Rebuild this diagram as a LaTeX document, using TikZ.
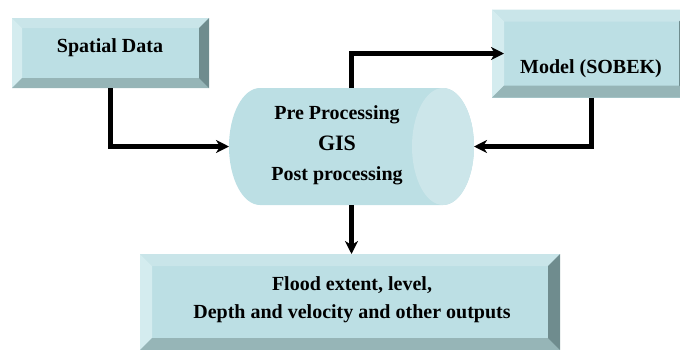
\documentclass[tikz,border=0pt]{standalone}
\usepackage{fontspec}
\setmainfont{Liberation Serif}
\usetikzlibrary{arrows.meta,calc}

\definecolor{face}{RGB}{188,223,228}
\definecolor{bevleft}{RGB}{212,236,239}
\definecolor{bevtop}{RGB}{201,229,233}
\definecolor{bevright}{RGB}{111,140,142}
\definecolor{bevbottom}{RGB}{150,181,183}
\definecolor{cylend}{RGB}{204,230,234}

% bevelled box drawn around a named (invisible) rectangle node: #1 name, #2 bevel width
\newcommand\bevelbox[2]{%
  \fill[face] (#1.north west) rectangle (#1.south east);
  \fill[bevtop] (#1.north west) -- (#1.north east) -- ($(#1.north east)+(-#2,#2)$) -- ($(#1.north west)+(#2,#2)$) -- cycle;
  \fill[bevleft] (#1.north west) -- ($(#1.north west)+(#2,#2)$) -- ($(#1.south west)+(#2,-#2)$) -- (#1.south west) -- cycle;
  \fill[bevbottom] (#1.south west) -- ($(#1.south west)+(#2,-#2)$) -- ($(#1.south east)+(-#2,-#2)$) -- (#1.south east) -- cycle;
  \fill[bevright] (#1.north east) -- ($(#1.north east)+(-#2,#2)$) -- ($(#1.south east)+(-#2,-#2)$) -- (#1.south east) -- cycle;
}

\begin{document}
\begin{tikzpicture}[x=1pt, y=-1pt,
  frame/.style={rectangle, inner sep=0pt, outer sep=0pt},
  txt/.style={anchor=base, inner sep=0pt, font=\fontsize{20}{24}\selectfont\bfseries},
  big/.style={anchor=base, inner sep=0pt, font=\fontsize{22}{26}\selectfont\bfseries},
  conn/.style={line width=4.5pt, line join=miter, -{Stealth[length=13pt, width=13pt, inset=4pt]}}]

\clip (0,0) rectangle (680,349);

% box frames
\node[frame, minimum width=197pt, minimum height=70pt] (sd) at (110.5,53) {};
\node[frame, minimum width=199pt, minimum height=88pt] (model) at (591.5,53.5) {};
\node[frame, minimum width=420pt, minimum height=96pt] (out) at (350,302) {};
\node[frame, minimum width=245pt, minimum height=117pt] (gis) at (351.5,146.5) {};

\bevelbox{sd}{10}
\bevelbox{model}{12}
\bevelbox{out}{12}

% GIS cylinder
\fill[face] (260,88) -- (443,88)
  arc[start angle=90, end angle=-90, x radius=31pt, y radius=58.5pt]
  -- (260,205)
  arc[start angle=270, end angle=90, x radius=31pt, y radius=58.5pt] -- cycle;
\fill[cylend] (443,146.5) ellipse[x radius=31pt, y radius=58.5pt];

% labels
\node[txt] (sdtext) at (110,52) {Spatial Data};
\node[txt] (modeltext) at (591,73) {Model (SOBEK)};
\node[txt] (pre) at (337,119) {Pre Processing};
\node[big] (gistext) at (337,150) {GIS};
\node[txt] (post) at (337,180) {Post processing};
\node[txt] (out1) at (352,290) {Flood extent, level,};
\node[txt] (out2) at (352,318) {Depth and velocity and other outputs};

% connectors
\coordinate (modelin) at ($(model.west)+(12,0)$);
\draw[conn] (sd.south) |- (gis.west);
\draw[conn] (gis.north) |- (modelin);
\draw[conn] (model.south) |- (gis.east);
\draw[conn] (gis.south) -- (gis.south |- out.north);
\end{tikzpicture}
\end{document}
